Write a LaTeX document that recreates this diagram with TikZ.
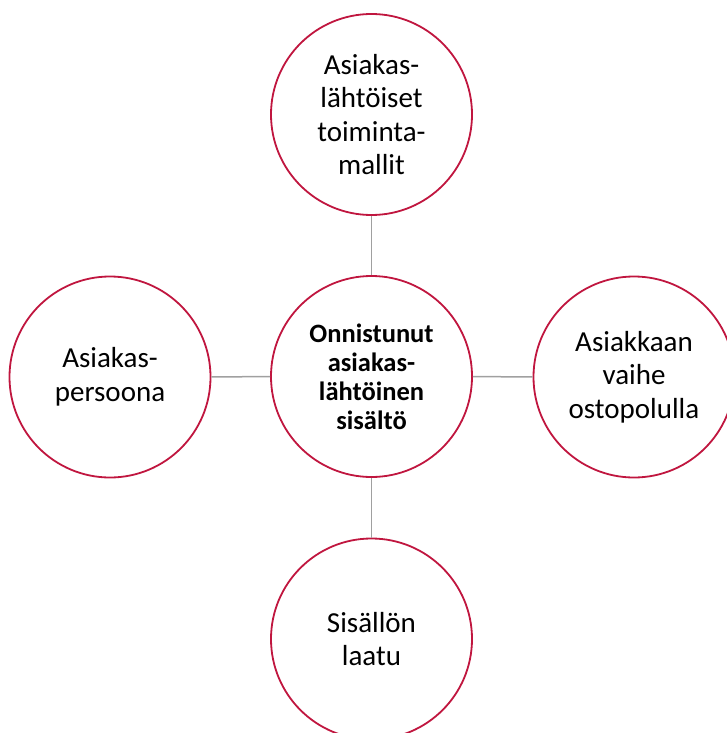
\documentclass[tikz,border=0pt]{standalone}
\usepackage{fontspec}
\setmainfont{Carlito}
\definecolor{ringred}{HTML}{C0163F}
\definecolor{linkgray}{HTML}{A0A0A0}
\begin{document}
\begin{tikzpicture}[x=1pt,y=-1pt,
  ring/.style={circle, draw=ringred, line width=1.8pt, minimum size=201pt, inner sep=0pt, align=center,
    font=\fontsize{29}{33.5}\selectfont},
  hub/.style={ring, font=\fontsize{26.5}{29}\selectfont\bfseries},
  link/.style={draw=linkgray, line width=1.5pt}]
\useasboundingbox (0,0) rectangle (727,733);
\clip (0,0) rectangle (727,733);
\node[hub] (c) at (371.5,376.5) {Onnistunut\\asiakas-\\lähtöinen\\sisältö};
\node[ring] (t) at (371.5,114.5) {Asiakas-\\lähtöiset\\toiminta-\\mallit};
\node[ring] (l) at (110,377) {Asiakas-\\persoona};
\node[ring] (r) at (634,377) {Asiakkaan\\vaihe\\ostopolulla};
\node[ring] (b) at (371.5,639) {Sisällön\\laatu};
\draw[link] (t) -- (c);
\draw[link] (l) -- (c);
\draw[link] (c) -- (r);
\draw[link] (c) -- (b);
\end{tikzpicture}
\end{document}
